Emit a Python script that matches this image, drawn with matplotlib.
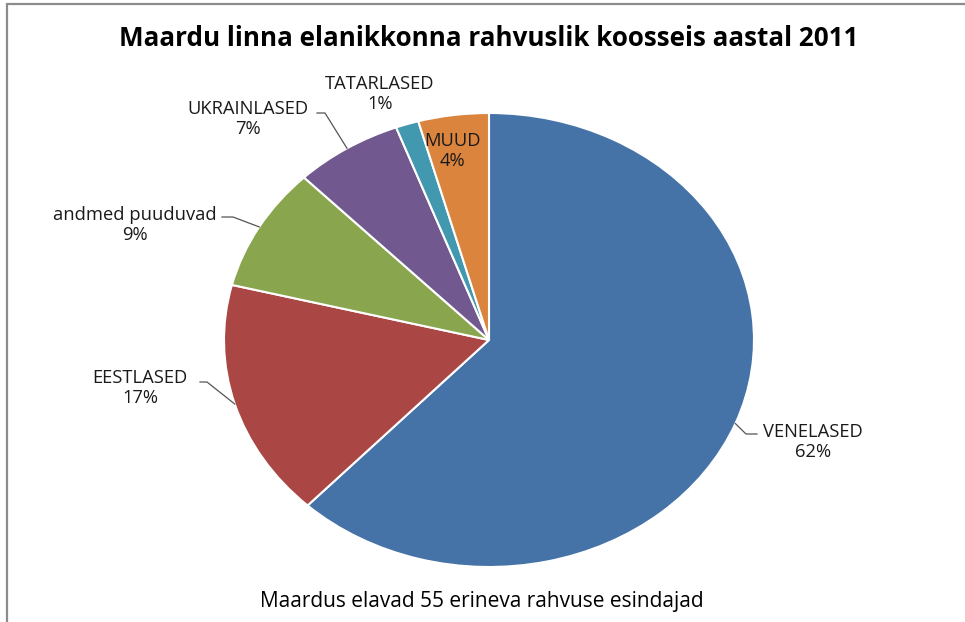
import numpy as np
import matplotlib.pyplot as plt
from matplotlib.lines import Line2D
from matplotlib.patches import Rectangle

plt.rcParams['font.family'] = ['Open Sans', 'DejaVu Sans']

# data (clockwise from top)
groups = ['VENELASED', 'EESTLASED', 'andmed puuduvad', 'UKRAINLASED', 'TATARLASED', 'MUUD']
shares = [62.0, 16.9, 8.8, 6.6, 1.4, 4.3]
colors = ['#4572A7', '#AA4643', '#89A54E', '#71588F', '#4198AF', '#DB843D']

title = 'Maardu linna elanikkonna rahvuslik koosseis aastal 2011'
note = 'Maardus elavad 55 erineva rahvuse esindajad'

W, H = 965, 622
fig = plt.figure(figsize=(W / 100, H / 100), dpi=100)

def fx(px):
    return px / W

def fy(py):
    return (H - py) / H

# chart frame (cut off on right/bottom like the screenshot)
fig.patches.append(Rectangle((fx(7), -0.2), 1.5, fy(4) + 0.2, transform=fig.transFigure,
                             fill=False, ec='#8c8c8c', lw=1.6))

# pie is stretched horizontally -> axes with auto aspect
cx, cy, rx, ry = 489, 340, 265, 227
ax = fig.add_axes([fx(cx - rx), fy(cy + ry), 2 * rx / W, 2 * ry / H])
wedges, _ = ax.pie(shares, colors=colors, startangle=90, counterclock=False,
                   wedgeprops=dict(edgecolor='white', linewidth=1.5))
ax.set_aspect('auto')
ax.set_xlim(-1, 1)
ax.set_ylim(-1, 1)
ax.axis('off')

fig.text(fx(489), fy(39), title, ha='center', va='center', fontsize=18.7, weight='bold')
fig.text(fx(482), fy(601), note, ha='center', va='center', fontsize=15)

# label centres (px) and leader line ends: (text end, elbow) or None
label_pos = [(813, 442), (140, 388), (135, 225), (248, 119), (380, 94), (452, 151)]
leaders = [((757, 434), (746, 434)),
           ((200, 382), (207, 382)),
           ((222, 217), (233, 217)),
           ((317, 113), (325, 113)),
           None,
           None]

fig.canvas.draw()
for w, name, v, pos, ld in zip(wedges, groups, shares, label_pos, leaders):
    fig.text(fx(pos[0]), fy(pos[1]), f'{name}\n{round(v)}%', ha='center', va='center',
             fontsize=13.2, color='#1a1a1a', linespacing=1.15)
    if ld is None:
        continue
    mid = np.deg2rad((w.theta1 + w.theta2) / 2)
    dx, dy = ax.transData.transform((np.cos(mid), np.sin(mid)))
    xs = [dx / W, fx(ld[1][0]), fx(ld[0][0])]
    ys = [dy / H, fy(ld[1][1]), fy(ld[0][1])]
    fig.lines.append(Line2D(xs, ys, transform=fig.transFigure, color='#555555', lw=0.9))

fig.savefig('out.png', dpi=100)
